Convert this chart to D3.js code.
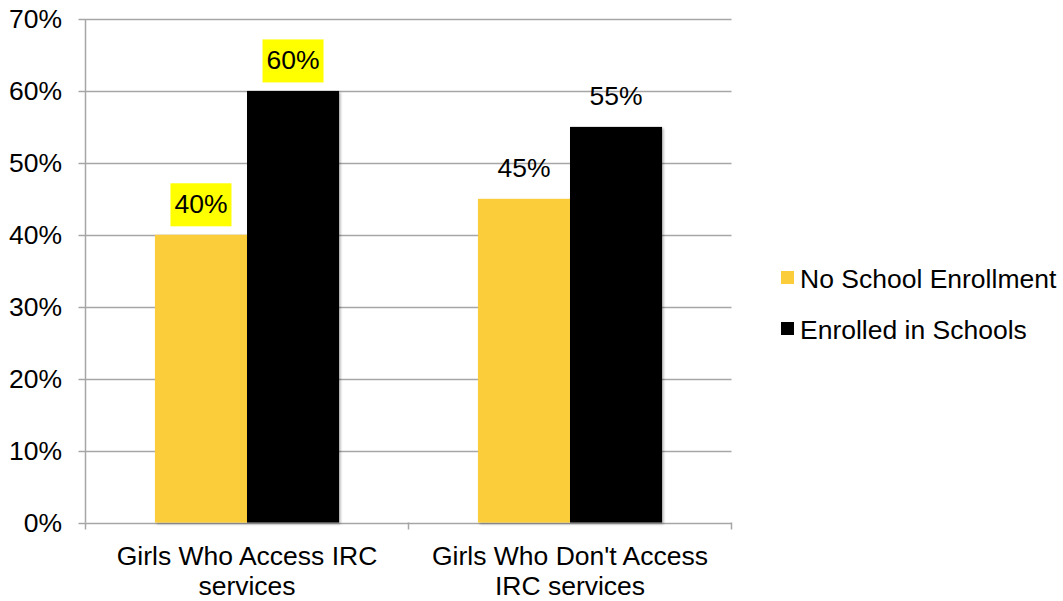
<!DOCTYPE html>
<html>
<head>
<meta charset="utf-8">
<script src="https://cdn.jsdelivr.net/npm/d3@7"></script>
<style>
  body { margin: 0; background: #fff; }
  text { font-family: "Liberation Sans", Arial, sans-serif; fill: #000; }
</style>
</head>
<body>
<div id="chart"></div>
<script>
// chart data
var categories = [["Girls Who Access IRC", "services"], ["Girls Who Don't Access", "IRC services"]];
var seriesNames = ["No School Enrollment", "Enrolled in Schools"];
var noSchool = [0.40, 0.45];
var enrolled = [0.60, 0.55];
var yTicks = [0, 0.1, 0.2, 0.3, 0.4, 0.5, 0.6, 0.7];
var highlighted = [0];   // category indexes whose labels get the yellow box

var colors = ["#fccd3b", "#000000"];
var gridColor = "#a6a6a6";
var fontSize = "26.5px";

var chartW = 1063, chartH = 601;
var plotLeft = 85.5, plotRight = 731.5, plotTop = 19, plotBottom = 522.5;

var svg = d3.select("#chart").append("svg")
    .attr("width", chartW)
    .attr("height", chartH);

var defs = svg.append("defs");
var shadow = defs.append("filter").attr("id", "shadow")
    .attr("x", "-10%").attr("y", "-10%").attr("width", "130%").attr("height", "130%");
shadow.append("feDropShadow")
    .attr("dx", 1.5).attr("dy", 1.5).attr("stdDeviation", 1.2)
    .attr("flood-color", "#000").attr("flood-opacity", 0.3);

var catIdx = d3.range(categories.length);

var x0 = d3.scaleBand()
    .domain(catIdx)
    .range([plotLeft, plotRight])
    .paddingInner(0.43)
    .paddingOuter(0.215);

var x1 = d3.scaleBand()
    .domain(d3.range(seriesNames.length))
    .range([0, x0.bandwidth()]);

var y = d3.scaleLinear()
    .domain([0, 0.7])
    .range([plotBottom, plotTop]);

// horizontal grid lines
svg.append("g").selectAll("line")
    .data(yTicks)
    .enter().append("line")
    .attr("x1", plotLeft - 7)
    .attr("x2", plotRight)
    .attr("y1", function (d) { return Math.round(y(d)) + 0.5; })
    .attr("y2", function (d) { return Math.round(y(d)) + 0.5; })
    .style("stroke", gridColor)
    .style("stroke-width", 1.5);

// y axis line
svg.append("line")
    .attr("x1", plotLeft).attr("x2", plotLeft)
    .attr("y1", y(0.7)).attr("y2", plotBottom)
    .style("stroke", gridColor)
    .style("stroke-width", 1.5);

// bottom tick marks at category boundaries
var step = x0.step();
var boundaries = d3.range(categories.length + 1).map(function (i) { return plotLeft + i * step; });
svg.append("g").selectAll("line")
    .data(boundaries)
    .enter().append("line")
    .attr("x1", function (d) { return d; })
    .attr("x2", function (d) { return d; })
    .attr("y1", plotBottom)
    .attr("y2", plotBottom + 7)
    .style("stroke", gridColor)
    .style("stroke-width", 1.5);

// y tick labels
svg.append("g").selectAll("text")
    .data(yTicks)
    .enter().append("text")
    .attr("x", 62)
    .attr("y", function (d) { return y(d); })
    .attr("dy", "0.35em")
    .attr("text-anchor", "end")
    .style("font-size", fontSize)
    .text(d3.format(".0%"));

// bars
var values = [noSchool, enrolled];
var barData = [];
catIdx.forEach(function (c) {
    values.forEach(function (vals, s) {
        barData.push({ cat: c, s: s, v: vals[c] });
    });
});

svg.append("g").selectAll("rect")
    .data(barData)
    .enter().append("rect")
    .attr("x", function (d) { return x0(d.cat) + x1(d.s); })
    .attr("y", function (d) { return y(d.v); })
    .attr("width", x1.bandwidth())
    .attr("height", function (d) { return plotBottom - y(d.v); })
    .attr("filter", "url(#shadow)")
    .style("fill", function (d) { return colors[d.s]; });

// value labels
var labels = svg.append("g").selectAll("g")
    .data(barData)
    .enter().append("g")
    .attr("transform", function (d) {
        return "translate(" + (x0(d.cat) + x1(d.s) + x1.bandwidth() / 2) + "," + (y(d.v) - 21.5) + ")";
    });

labels.filter(function (d) { return highlighted.indexOf(d.cat) >= 0; })
    .append("rect")
    .attr("x", -30.5)
    .attr("y", -30)
    .attr("width", 61)
    .attr("height", 43)
    .style("fill", "#ffff00");

labels.append("text")
    .attr("text-anchor", "middle")
    .style("font-size", fontSize)
    .text(function (d) { return d3.format(".0%")(d.v); });

// category labels
var catLabels = svg.append("g").selectAll("text")
    .data(catIdx)
    .enter().append("text")
    .attr("text-anchor", "middle")
    .attr("x", function (c) { return x0(c) + x0.bandwidth() / 2; })
    .attr("y", 565)
    .style("font-size", fontSize);

catLabels.selectAll("tspan")
    .data(function (c) { return categories[c]; })
    .enter().append("tspan")
    .attr("x", function () { return d3.select(this.parentNode).attr("x"); })
    .attr("dy", function (d, i) { return i === 0 ? 0 : 30; })
    .text(function (d) { return d; });

// legend
var legend = svg.append("g").selectAll("g")
    .data(seriesNames)
    .enter().append("g")
    .attr("transform", function (d, i) { return "translate(781," + (288 + i * 51) + ")"; });

legend.append("rect")
    .attr("x", 0)
    .attr("y", -17)
    .attr("width", 13)
    .attr("height", 13)
    .style("fill", function (d, i) { return colors[i]; });

legend.append("text")
    .attr("x", 19)
    .attr("y", 0)
    .style("font-size", fontSize)
    .text(function (d) { return d; });
</script>
</body>
</html>
